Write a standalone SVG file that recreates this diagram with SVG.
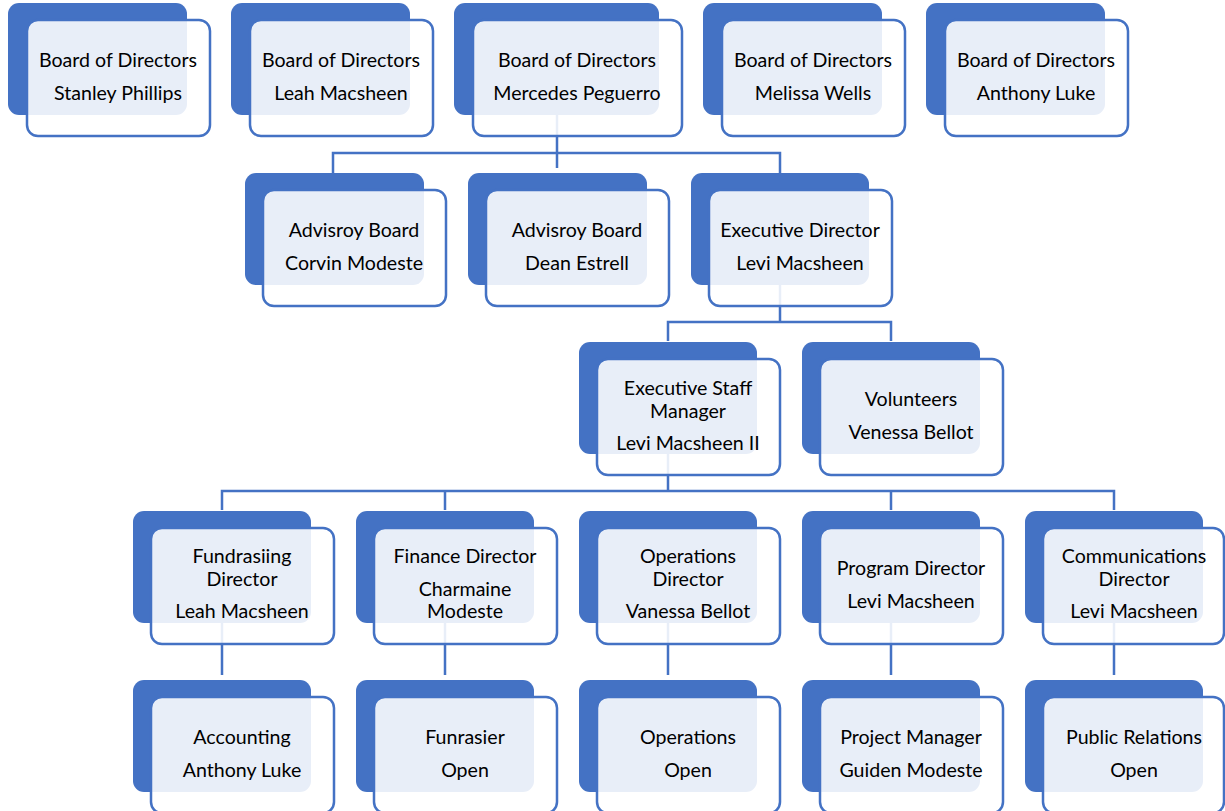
<svg xmlns="http://www.w3.org/2000/svg" width="1225" height="811" viewBox="0 0 1225 811">
<style>
.bk{fill:#4472C4}
.fr{fill:#ffffff;fill-opacity:0.88;stroke:#4472C4;stroke-width:2.5}
.cn{fill:none;stroke:#4472C4;stroke-width:2.5}
text{font-family:Lato,"Liberation Sans",sans-serif;font-size:19.6px;fill:#000;text-anchor:middle}
</style>
<rect width="1225" height="811" fill="#ffffff"/>
<g id="connectors">
<path class="cn" d="M557 115V168M333 173V153H780V173"/>
<path class="cn" d="M780 284V322M668 341V322H891V341"/>
<path class="cn" d="M668 453V491M222 510V491H1114V510M445 491V510M891 491V510"/>
<path class="cn" d="M222 622V675M445 622V675M668 622V675M891 622V675M1114 622V675"/>
</g>
<g id="n1"><rect class="bk" x="8" y="3" width="179" height="112" rx="11"/><rect class="fr" x="27" y="20" width="183" height="116" rx="11"/><text x="118" y="67">Board of Directors</text><text x="118" y="100">Stanley Phillips</text></g>
<g id="n2"><rect class="bk" x="231" y="3" width="179" height="112" rx="11"/><rect class="fr" x="250" y="20" width="183" height="116" rx="11"/><text x="341" y="67">Board of Directors</text><text x="341" y="100">Leah Macsheen</text></g>
<g id="n3"><rect class="bk" x="454" y="3" width="205" height="112" rx="11"/><rect class="fr" x="473" y="20" width="209" height="116" rx="11"/><text x="577" y="67">Board of Directors</text><text x="577" y="100">Mercedes Peguerro</text></g>
<g id="n4"><rect class="bk" x="703" y="3" width="179" height="112" rx="11"/><rect class="fr" x="722" y="20" width="183" height="116" rx="11"/><text x="813" y="67">Board of Directors</text><text x="813" y="100">Melissa Wells</text></g>
<g id="n5"><rect class="bk" x="926" y="3" width="179" height="112" rx="11"/><rect class="fr" x="945" y="20" width="183" height="116" rx="11"/><text x="1036" y="67">Board of Directors</text><text x="1036" y="100">Anthony Luke</text></g>
<g id="n6"><rect class="bk" x="245" y="173" width="179" height="112" rx="11"/><rect class="fr" x="263" y="190" width="183" height="116" rx="11"/><text x="354" y="237">Advisroy Board</text><text x="354" y="270">Corvin Modeste</text></g>
<g id="n7"><rect class="bk" x="468" y="173" width="179" height="112" rx="11"/><rect class="fr" x="486" y="190" width="183" height="116" rx="11"/><text x="577" y="237">Advisroy Board</text><text x="577" y="270">Dean Estrell</text></g>
<g id="n8"><rect class="bk" x="691" y="173" width="178" height="112" rx="11"/><rect class="fr" x="709" y="190" width="183" height="116" rx="11"/><text x="800" y="237">Executive Director</text><text x="800" y="270">Levi Macsheen</text></g>
<g id="n9"><rect class="bk" x="579" y="342" width="178" height="112" rx="11"/><rect class="fr" x="597" y="359" width="183" height="116" rx="11"/><text x="688" y="395">Executive Staff</text><text x="688" y="418">Manager</text><text x="688" y="450">Levi Macsheen II</text></g>
<g id="n10"><rect class="bk" x="802" y="342" width="178" height="112" rx="11"/><rect class="fr" x="820" y="359" width="183" height="116" rx="11"/><text x="911" y="406">Volunteers</text><text x="911" y="439">Venessa Bellot</text></g>
<g id="n11"><rect class="bk" x="133" y="511" width="178" height="112" rx="11"/><rect class="fr" x="151" y="528" width="183" height="116" rx="11"/><text x="242" y="563">Fundrasiing</text><text x="242" y="586">Director</text><text x="242" y="618">Leah Macsheen</text></g>
<g id="n12"><rect class="bk" x="356" y="511" width="178" height="112" rx="11"/><rect class="fr" x="374" y="528" width="183" height="116" rx="11"/><text x="465" y="563">Finance Director</text><text x="465" y="596">Charmaine</text><text x="465" y="618">Modeste</text></g>
<g id="n13"><rect class="bk" x="579" y="511" width="178" height="112" rx="11"/><rect class="fr" x="597" y="528" width="183" height="116" rx="11"/><text x="688" y="563">Operations</text><text x="688" y="586">Director</text><text x="688" y="618">Vanessa Bellot</text></g>
<g id="n14"><rect class="bk" x="802" y="511" width="178" height="112" rx="11"/><rect class="fr" x="820" y="528" width="183" height="116" rx="11"/><text x="911" y="575">Program Director</text><text x="911" y="608">Levi Macsheen</text></g>
<g id="n15"><rect class="bk" x="1025" y="511" width="178" height="112" rx="11"/><rect class="fr" x="1043" y="528" width="181" height="116" rx="11"/><text x="1134" y="563">Communications</text><text x="1134" y="586">Director</text><text x="1134" y="618">Levi Macsheen</text></g>
<g id="n16"><rect class="bk" x="133" y="680" width="178" height="112" rx="11"/><rect class="fr" x="151" y="697" width="183" height="116" rx="11"/><text x="242" y="744">Accounting</text><text x="242" y="777">Anthony Luke</text></g>
<g id="n17"><rect class="bk" x="356" y="680" width="178" height="112" rx="11"/><rect class="fr" x="374" y="697" width="183" height="116" rx="11"/><text x="465" y="744">Funrasier</text><text x="465" y="777">Open</text></g>
<g id="n18"><rect class="bk" x="579" y="680" width="178" height="112" rx="11"/><rect class="fr" x="597" y="697" width="183" height="116" rx="11"/><text x="688" y="744">Operations</text><text x="688" y="777">Open</text></g>
<g id="n19"><rect class="bk" x="802" y="680" width="178" height="112" rx="11"/><rect class="fr" x="820" y="697" width="183" height="116" rx="11"/><text x="911" y="744">Project Manager</text><text x="911" y="777">Guiden Modeste</text></g>
<g id="n20"><rect class="bk" x="1025" y="680" width="178" height="112" rx="11"/><rect class="fr" x="1043" y="697" width="181" height="116" rx="11"/><text x="1134" y="744">Public Relations</text><text x="1134" y="777">Open</text></g>
</svg>
